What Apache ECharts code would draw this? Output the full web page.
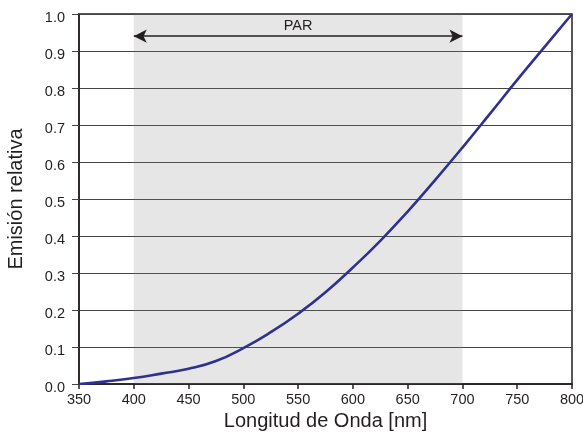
<!DOCTYPE html>
<html>
<head>
<meta charset="utf-8">
<script src="https://cdn.jsdelivr.net/npm/echarts@6/dist/echarts.min.js"></script>
<style>html,body{margin:0;padding:0;background:#fff}#c{width:583px;height:433px}</style>
</head>
<body>
<div id="c"></div>
<script>
const wavelengths = [350, 375, 400, 425, 450, 475, 500, 525, 550, 575, 600, 625, 650, 675, 700, 725, 750, 775, 800];
const emission   = [0.0, 0.007, 0.016, 0.028, 0.041, 0.062, 0.097, 0.140, 0.190, 0.248, 0.315, 0.387, 0.466, 0.551, 0.639, 0.730, 0.822, 0.911, 1.0];
const parRange = [400, 700];
const parLevel = 0.94;
const parLabel = 'PAR';
const xTitle = 'Longitud de Onda [nm]';
const yTitle = 'Emisión relativa';

const font = 'Liberation Sans, Arial, Helvetica, sans-serif';
const txt = '#231f20';
const chart = echarts.init(document.getElementById('c'));
chart.setOption({
  animation: false,
  grid: {left: 79, right: 11, top: 14, bottom: 49, outerBoundsMode: 'none', containLabel: false, show: true, borderColor: '#231f20', borderWidth: 1.5, backgroundColor: 'transparent'},
  xAxis: {
    type: 'value', min: 350, max: 800, interval: 50,
    name: xTitle, nameLocation: 'middle', nameGap: 26,
    nameTextStyle: {fontFamily: font, fontSize: 20, color: txt},
    axisLine: {show: true, lineStyle: {color: '#231f20', width: 1.5}},
    axisTick: {show: true, length: 5, lineStyle: {color: '#231f20', width: 1.5}},
    axisLabel: {fontFamily: font, fontSize: 14.5, color: txt, margin: 8},
    splitLine: {show: false}
  },
  yAxis: {
    type: 'value', min: 0, max: 1, interval: 0.1,
    name: yTitle, nameLocation: 'middle', nameGap: 53,
    nameTextStyle: {fontFamily: font, fontSize: 20, color: txt},
    axisLine: {show: true, lineStyle: {color: '#231f20', width: 1.5}},
    axisTick: {show: true, length: 7, lineStyle: {color: '#444', width: 1}},
    axisLabel: {fontFamily: font, fontSize: 14.5, color: txt, margin: 14, verticalAlign: 'top', lineHeight: 8, formatter: v => v.toFixed(1)},
    splitLine: {show: true, lineStyle: {color: '#444', width: 1}}
  },
  series: [
    {
      type: 'line', data: [], silent: true,
      markArea: {
        silent: true,
        itemStyle: {color: 'rgba(128,130,135,0.2)'},
        data: [[{xAxis: parRange[0]}, {xAxis: parRange[1]}]]
      },
      markLine: {
        silent: true,
        symbol: ['arrow', 'arrow'],
        symbolSize: [10, 13],
        lineStyle: {color: '#231f20', width: 1.5, type: 'solid'},
        label: {show: true, formatter: parLabel, position: 'middle', fontFamily: font, fontSize: 14.5, color: txt, distance: 3},
        data: [[{coord: [parRange[0], parLevel]}, {coord: [parRange[1], parLevel]}]]
      }
    },
    {
      type: 'line',
      data: wavelengths.map((x, i) => [x, emission[i]]),
      smooth: 0.5,
      showSymbol: false,
      lineStyle: {color: '#2e3192', width: 2.6},
      z: 5
    }
  ]
});
</script>
</body>
</html>
